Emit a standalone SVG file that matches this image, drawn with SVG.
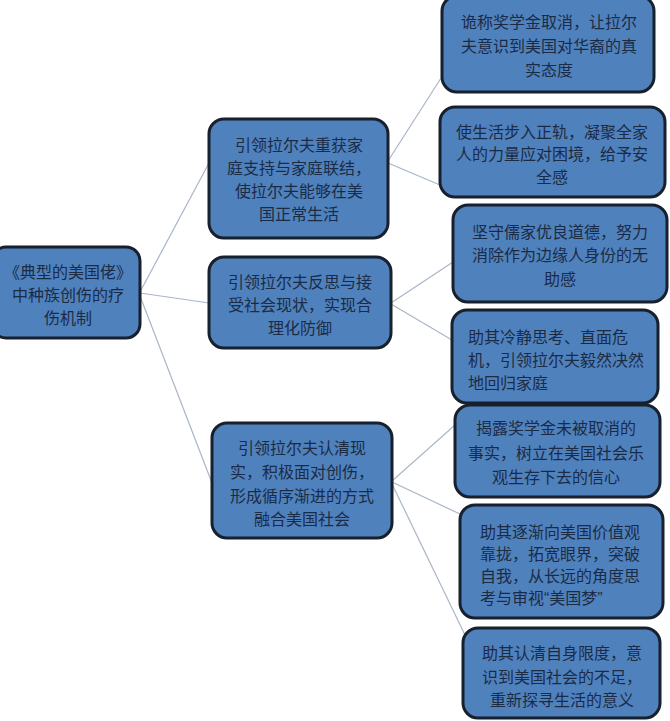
<svg xmlns="http://www.w3.org/2000/svg" width="670" height="721" viewBox="0 0 670 721">
<style>
.box{fill:#4f81bd;stroke:#17202c;stroke-width:3}
.t{font-family:"Liberation Sans","Noto Sans CJK SC",sans-serif;font-size:16px;fill:#1b2b45}
.c{text-anchor:middle}
.ln{stroke:#a9b6c8;stroke-width:1.2;fill:none}
</style>
<rect width="670" height="721" fill="#ffffff"/>
<g id="connectors">
<line class="ln" x1="140" y1="292" x2="209" y2="163"/>
<line class="ln" x1="140" y1="293" x2="209" y2="303"/>
<line class="ln" x1="140" y1="296" x2="212" y2="483"/>
<line class="ln" x1="388" y1="161" x2="443" y2="75"/>
<line class="ln" x1="388" y1="163" x2="440" y2="185"/>
<line class="ln" x1="391" y1="303" x2="453" y2="262"/>
<line class="ln" x1="391" y1="304" x2="452" y2="340"/>
<line class="ln" x1="392" y1="481" x2="455" y2="425"/>
<line class="ln" x1="392" y1="482" x2="462" y2="515"/>
<line class="ln" x1="392" y1="484" x2="465" y2="635"/>
</g>
<g id="root">
<rect class="box" x="-8" y="247" width="148" height="91" rx="14"/>
<text class="t c" x="68" y="278" font-size="16.5">《典型的美国佬》</text>
<text class="t c" x="68" y="301" font-size="16.5">中种族创伤的疗</text>
<text class="t c" x="68" y="324" font-size="16.5">伤机制</text>
</g>
<g id="n1">
<rect class="box" x="209" y="119" width="179" height="119" rx="15"/>
<text class="t c" x="299" y="151">引领拉尔夫重获家</text>
<text class="t c" x="299" y="174">庭支持与家庭联结，</text>
<text class="t c" x="299" y="197">使拉尔夫能够在美</text>
<text class="t c" x="299" y="220">国正常生活</text>
</g>
<g id="n2">
<rect class="box" x="209" y="257" width="182" height="91" rx="15"/>
<text class="t c" x="300" y="288">引领拉尔夫反思与接</text>
<text class="t c" x="300" y="311">受社会现状，实现合</text>
<text class="t c" x="300" y="334">理化防御</text>
</g>
<g id="n3">
<rect class="box" x="212" y="423" width="180" height="115" rx="15"/>
<text class="t c" x="302" y="454">引领拉尔夫认清现</text>
<text class="t c" x="302" y="478">实，积极面对创伤，</text>
<text class="t c" x="302" y="502">形成循序渐进的方式</text>
<text class="t c" x="302" y="525">融合美国社会</text>
</g>
<g id="a">
<rect class="box" x="442" y="-4" width="212" height="96" rx="15"/>
<text class="t c" x="549" y="28">诡称奖学金取消，让拉尔</text>
<text class="t c" x="549" y="52">夫意识到美国对华裔的真</text>
<text class="t c" x="549" y="76">实态度</text>
</g>
<g id="b">
<rect class="box" x="440" y="107" width="225" height="90" rx="15"/>
<text class="t c" x="552" y="138">使生活步入正轨，凝聚全家</text>
<text class="t c" x="552" y="160">人的力量应对困境，给予安</text>
<text class="t c" x="552" y="183">全感</text>
</g>
<g id="c">
<rect class="box" x="453" y="205" width="214" height="97" rx="15"/>
<text class="t c" x="560" y="238">坚守儒家优良道德，努力</text>
<text class="t c" x="560" y="261">消除作为边缘人身份的无</text>
<text class="t c" x="560" y="285">助感</text>
</g>
<g id="d">
<rect class="box" x="452" y="310" width="206" height="93" rx="15"/>
<text class="t" x="468" y="343">助其冷静思考、直面危</text>
<text class="t" x="468" y="366">机，引领拉尔夫毅然决然</text>
<text class="t" x="468" y="389">地回归家庭</text>
</g>
<g id="e">
<rect class="box" x="455" y="405" width="205" height="92" rx="15"/>
<text class="t c" x="556" y="434">揭露奖学金未被取消的</text>
<text class="t c" x="556" y="459">事实，树立在美国社会乐</text>
<text class="t c" x="556" y="483">观生存下去的信心</text>
</g>
<g id="f">
<rect class="box" x="460" y="505" width="203" height="113" rx="15"/>
<text class="t" x="480" y="538">助其逐渐向美国价值观</text>
<text class="t" x="480" y="560">靠拢，拓宽眼界，突破</text>
<text class="t" x="480" y="582">自我，从长远的角度思</text>
<text class="t" x="480" y="604">考与审视“美国梦”</text>
</g>
<g id="g">
<rect class="box" x="463" y="628" width="197" height="90" rx="15"/>
<text class="t c" x="562" y="659">助其认清自身限度，意</text>
<text class="t c" x="562" y="683">识到美国社会的不足，</text>
<text class="t c" x="562" y="706">重新探寻生活的意义</text>
</g>
</svg>
